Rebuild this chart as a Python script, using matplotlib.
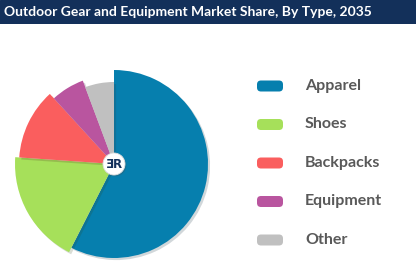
import matplotlib.pyplot as plt
from matplotlib.patches import Wedge, Circle, FancyBboxPatch, Rectangle
import matplotlib.patheffects as pe

# Données
categories = ['Apparel', 'Shoes', 'Backpacks', 'Equipment', 'Other']
shares = [57.5, 18.6, 12.1, 6.1, 5.7]
z_values = [94, 99, 95, 89, 82]   # rayon variable (variable pie)
colors = ['#067fae', '#a6e05a', '#fa5e5e', '#b9559f', '#c0c0c0']
title = 'Outdoor Gear and Equipment Market Share, By Type, 2035'

fig = plt.figure(figsize=(4.16, 2.72), dpi=100)
fig.patch.set_facecolor('white')

# Bandeau du titre
band = fig.add_axes([0, 1 - 24 / 272, 1, 24 / 272])
band.add_patch(Rectangle((0, 0), 1, 1, color='#13305a'))
band.set_xlim(0, 1)
band.set_ylim(0, 1)
band.axis('off')
band.text(4 / 416, 0.5, title, color='white', fontsize=10, fontweight='bold',
          family=['Lato', 'DejaVu Sans'], va='center', ha='left')

# Le camembert (rayon variable)
ax = fig.add_axes([14 / 416, 8 / 272, 200 / 416, 200 / 272])
ax.set_xlim(-100, 100)
ax.set_ylim(-100, 100)
ax.set_aspect('equal')
ax.axis('off')

total = sum(shares)
start = 90.0
for share, z, col in zip(shares, z_values, colors):
    sweep = share / total * 360
    w = Wedge((0, 0), z, start - sweep, start, facecolor=col, edgecolor='none')
    w.set_path_effects([pe.SimplePatchShadow(offset=(1.5, -1.5), alpha=0.18),
                        pe.Normal()])
    ax.add_patch(w)
    start -= sweep

# Logo au centre
logo = Circle((0, 0), 11, facecolor='white', edgecolor='#dddddd', lw=0.6, zorder=5)
logo.set_path_effects([pe.SimplePatchShadow(offset=(1, -1), alpha=0.25), pe.Normal()])
ax.add_patch(logo)
ax.text(0, 0, 'ƎR', color='#13305a', fontsize=8.5, fontweight='bold',
        ha='center', va='center', zorder=6)

# Légende
leg = fig.add_axes([0, 0, 1, 1])
leg.set_xlim(0, 416)
leg.set_ylim(272, 0)
leg.axis('off')
for i, (cat, col) in enumerate(zip(categories, colors)):
    y = 86 + i * 38.5
    leg.add_patch(FancyBboxPatch((257, y - 5.5), 26, 11,
                                 boxstyle='round,pad=0,rounding_size=4',
                                 facecolor=col, edgecolor='none'))
    leg.text(305, y, cat, color='#595959', fontsize=11.5, fontweight='bold',
             family=['Lato', 'DejaVu Sans'], va='center', ha='left')

fig.savefig('out.png', dpi=100)
